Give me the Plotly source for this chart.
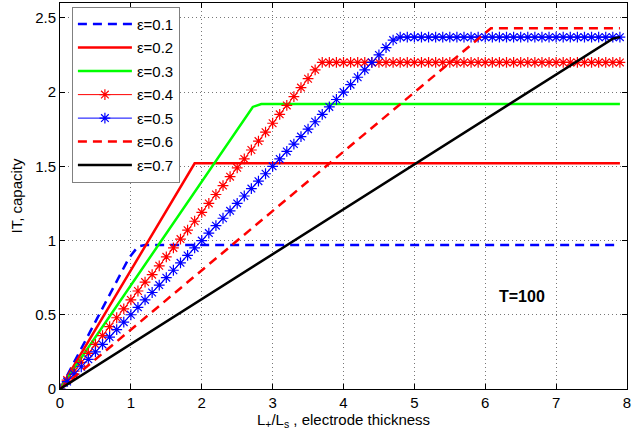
import plotly.graph_objects as go

# Sample positions (L+/Ls) used for the marker curves
X_STAR = [round(0.1 * i, 1) for i in range(80)]  # 0.0 ... 7.9

# eps = 0.1 (blue dashed)
EPS01_X = [0, 0.97, 1.1, 1.2, 7.9]
EPS01_Y = [0, 0.88, 0.96, 0.97, 0.97]

# eps = 0.2 (red solid)
EPS02_X = [0, 1.9, 7.9]
EPS02_Y = [0, 1.52, 1.52]

# eps = 0.3 (green solid)
EPS03_X = [0, 2.72, 2.84, 7.9]
EPS03_Y = [0, 1.90, 1.92, 1.92]

# eps = 0.4 (red with asterisks)
EPS04_Y = [0, 0.06, 0.12, 0.18, 0.24, 0.30, 0.36, 0.42, 0.48, 0.54,
           0.60, 0.66, 0.72, 0.77, 0.83, 0.89, 0.95, 1.01, 1.07, 1.13,
           1.19, 1.25, 1.31, 1.37, 1.43, 1.49, 1.55, 1.61, 1.67, 1.73,
           1.79, 1.85, 1.91, 1.97, 2.03, 2.09, 2.15] + [2.2] * 43

# eps = 0.5 (blue with asterisks)
EPS05_Y = [0, 0.05, 0.10, 0.15, 0.20, 0.25, 0.30, 0.35, 0.40, 0.45,
           0.50, 0.55, 0.60, 0.65, 0.70, 0.75, 0.80, 0.85, 0.90, 0.95,
           1.00, 1.05, 1.10, 1.15, 1.20, 1.25, 1.30, 1.35, 1.40, 1.45,
           1.50, 1.55, 1.60, 1.65, 1.70, 1.75, 1.80, 1.85, 1.90, 1.95,
           2.00, 2.05, 2.10, 2.15, 2.20, 2.25, 2.30, 2.35] + [2.37] * 32

# eps = 0.6 (red dashed)
EPS06_X = [0, 6.08, 7.9]
EPS06_Y = [0, 2.43, 2.43]

# eps = 0.7 (black solid)
EPS07_X = [0, 7.8, 7.9]
EPS07_Y = [0, 2.36, 2.37]

X_TICKS = [0, 1, 2, 3, 4, 5, 6, 7, 8]
Y_TICKS = [0, 0.5, 1, 1.5, 2, 2.5]
Y_TICK_TEXT = ["0", "0.5", "1", "1.5", "2", "2.5"]

FONT = "Liberation Sans, Arial, Helvetica, sans-serif"
DASH = "9px,6px"

fig = go.Figure()

fig.add_trace(go.Scatter(x=EPS01_X, y=EPS01_Y, mode="lines", name="ε=0.1",
                         legendgroup="a",
                         line=dict(color="#0000ff", width=2.5, dash=DASH)))
fig.add_trace(go.Scatter(x=EPS02_X, y=EPS02_Y, mode="lines", name="ε=0.2",
                         legendgroup="b",
                         line=dict(color="#ff0000", width=2.5)))
fig.add_trace(go.Scatter(x=EPS03_X, y=EPS03_Y, mode="lines", name="ε=0.3",
                         legendgroup="c",
                         line=dict(color="#00ff00", width=2.5)))
fig.add_trace(go.Scatter(x=X_STAR, y=EPS04_Y, mode="lines+markers", name="ε=0.4",
                         legendgroup="d",
                         line=dict(color="#ff0000", width=1),
                         marker=dict(symbol="asterisk-open", size=9,
                                     line=dict(color="#ff0000", width=1.2))))
fig.add_trace(go.Scatter(x=X_STAR, y=EPS05_Y, mode="lines+markers", name="ε=0.5",
                         legendgroup="e",
                         line=dict(color="#0000ff", width=1),
                         marker=dict(symbol="asterisk-open", size=9,
                                     line=dict(color="#0000ff", width=1.2))))
fig.add_trace(go.Scatter(x=EPS06_X, y=EPS06_Y, mode="lines", name="ε=0.6",
                         legendgroup="f",
                         line=dict(color="#ff0000", width=2.5, dash=DASH)))
fig.add_trace(go.Scatter(x=EPS07_X, y=EPS07_Y, mode="lines", name="ε=0.7",
                         legendgroup="g",
                         line=dict(color="#000000", width=2.5)))

fig.add_annotation(x=6.52, y=0.62, text="<b>T=100</b>", showarrow=False,
                   font=dict(family=FONT, size=16, color="black"))

axis_common = dict(
    showline=True, linecolor="black", linewidth=1, mirror="ticks",
    ticks="inside", ticklen=5, tickcolor="black", tickwidth=1,
    showgrid=True, gridcolor="#777777", gridwidth=1, griddash="1px,3px",
    zeroline=False, tickfont=dict(family=FONT, size=15, color="black"),
)

fig.update_xaxes(range=[0, 8], tickvals=X_TICKS,
                 title=dict(text="L<sub>+</sub>/L<sub>s</sub> , electrode thickness",
                            font=dict(family=FONT, size=15, color="black"),
                            standoff=4),
                 **axis_common)
fig.update_yaxes(range=[0, 2.6], tickvals=Y_TICKS, ticktext=Y_TICK_TEXT,
                 title=dict(text="IT, capacity",
                            font=dict(family=FONT, size=15, color="black"),
                            standoff=8),
                 **axis_common)

fig.update_layout(
    width=634, height=434,
    margin=dict(l=60, r=7, t=3, b=45),
    paper_bgcolor="white", plot_bgcolor="white",
    font=dict(family=FONT, size=15, color="black"),
    legend=dict(x=0.021, y=0.99, xanchor="left", yanchor="top",
                bgcolor="white", bordercolor="#808080", borderwidth=1,
                font=dict(family=FONT, size=15, color="black"),
                tracegroupgap=1, itemwidth=54),
    showlegend=True,
)

fig.write_html("out.html")
